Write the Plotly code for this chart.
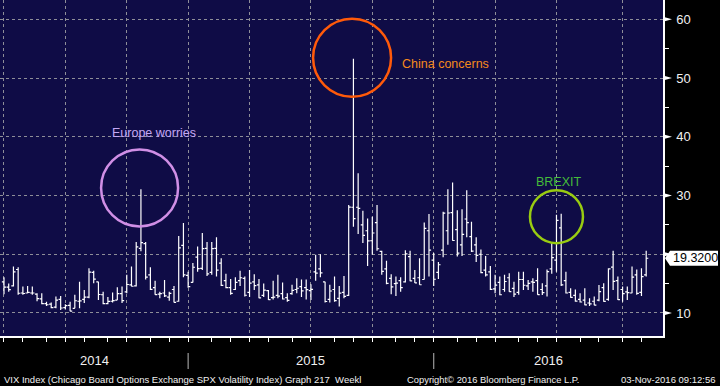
import pandas as pd
import plotly.graph_objects as go

# ---- data (weekly VIX OHLC, weeks ending Friday) ----
first_week = "2014-03-28"
open_ = [15.3, 14.4, 14.6, 17.4, 13.4, 13.4, 13.4, 13.2, 12.4, 11.6, 11.5, 11.0, 12.3, 10.9, 11.3, 10.8, 12.0, 12.3, 12.7, 16.9,
         15.3, 13.1, 11.6, 12.0, 12.2, 13.3, 13.6, 14.8, 14.6, 21.0, 21.8, 16.5, 14.3, 13.2, 13.4, 12.7, 14.0, 12.0, 21.5, 16.4,
         15.2, 19.5, 17.6, 21.0, 16.9, 21.0, 18.5, 15.5, 14.3, 14.0, 15.5, 15.9, 13.5, 15.3, 14.8, 13.0, 13.8, 12.6, 13.0, 13.3,
         12.6, 13.3, 14.0, 14.5, 14.3, 13.8, 17.0, 17.5, 15.3, 12.3, 14.0, 12.5, 13.5, 13.0, 28.0, 28.0, 25.0, 24.0, 22.3, 25.4,
         20.5, 17.5, 15.9, 15.0, 15.5, 15.3, 19.6, 15.9, 16.0, 15.7, 24.0, 19.0, 16.9, 20.7, 24.0, 27.1, 24.2, 21.6, 26.0, 23.0,
         21.6, 20.0, 17.3, 17.0, 14.1, 15.2, 14.0, 16.0, 14.2, 13.5, 15.7, 14.6, 15.3, 15.5, 14.0, 14.6, 17.5, 19.0, 24.5, 15.5,
         13.5, 13.0, 12.3, 12.2, 11.7, 12.0, 12.2, 14.3, 12.3, 17.8, 15.5, 14.0, 13.6, 13.4, 16.5, 13.5, 16.5]
high = [16.1, 15.0, 17.9, 17.8, 14.5, 14.6, 14.5, 13.35, 13.35, 11.9, 11.8, 12.8, 12.9, 11.5, 11.9, 13.1, 15.3, 13.9, 17.6, 17.2,
        15.3, 13.6, 12.7, 13.5, 14.4, 14.5, 16.5, 17.9, 22.1, 31.06, 22.1, 17.8, 15.5, 13.6, 15.6, 13.6, 14.6, 23.1, 25.3, 17.0,
        18.5, 21.3, 23.6, 22.1, 22.1, 22.9, 19.3, 16.7, 15.8, 16.1, 17.2, 16.2, 17.3, 16.6, 15.8, 15.0, 13.9, 15.5, 16.5, 15.2,
        13.35, 14.8, 15.9, 15.7, 15.7, 14.9, 19.9, 20.0, 15.3, 14.8, 16.2, 14.6, 16.3, 28.4, 53.29, 33.8, 27.4, 26.1, 26.4, 28.4,
        20.6, 18.9, 16.6, 16.2, 16.1, 20.7, 20.6, 17.3, 19.3, 25.4, 26.85, 20.2, 18.7, 27.25, 31.05, 32.2, 27.5, 27.65, 30.9, 25.55,
        22.9, 20.8, 19.7, 18.0, 16.5, 16.2, 16.5, 16.75, 15.3, 17.0, 17.0, 15.6, 15.9, 17.6, 15.05, 17.4, 22.0, 26.72, 26.9, 17.0,
        14.2, 14.0, 13.35, 14.2, 12.5, 12.8, 14.76, 15.05, 17.6, 20.6, 16.2, 14.5, 14.5, 17.9, 17.4, 17.6, 20.6]
low = [13.2, 13.6, 14.5, 13.1, 13.1, 13.35, 13.1, 12.0, 11.5, 11.2, 10.8, 10.8, 10.5, 10.6, 10.3, 10.8, 10.8, 11.7, 12.5, 15.05,
       12.2, 11.5, 11.5, 11.8, 12.2, 11.7, 13.35, 14.5, 14.5, 20.5, 15.7, 13.9, 13.1, 12.5, 12.7, 12.1, 11.8, 11.9, 16.1, 14.3,
       15.2, 17.0, 17.3, 16.3, 16.5, 16.2, 14.6, 14.2, 13.1, 13.9, 14.6, 12.8, 12.7, 13.9, 12.5, 12.7, 12.2, 12.3, 12.5, 12.3,
       11.9, 13.1, 13.35, 12.7, 12.3, 12.2, 15.5, 16.1, 11.8, 11.8, 11.9, 11.1, 12.5, 12.9, 24.7, 23.45, 21.9, 18.0, 19.9, 20.6,
       16.5, 14.9, 13.2, 12.9, 13.6, 15.2, 15.4, 15.1, 14.8, 15.7, 16.2, 14.6, 15.8, 19.5, 21.6, 22.3, 19.6, 19.7, 22.9, 20.4,
       18.7, 16.75, 16.2, 13.9, 13.35, 13.0, 13.6, 13.6, 12.7, 13.1, 13.9, 13.9, 13.6, 13.1, 13.07, 12.8, 16.7, 17.0, 14.6, 13.3,
       12.6, 11.9, 11.8, 11.3, 11.2, 11.3, 12.0, 11.9, 12.1, 13.9, 12.2, 11.9, 12.2, 13.35, 13.1, 12.9, 16.2]
close = [14.4, 13.96, 17.0, 13.36, 13.32, 13.5, 13.4, 12.44, 11.6, 11.4, 10.9, 12.18, 10.85, 11.26, 10.32, 12.08, 12.06, 12.69, 16.95, 15.77,
         13.15, 11.6, 11.98, 12.09, 13.31, 12.11, 14.85, 14.55, 21.24, 21.99, 16.11, 14.03, 13.12, 13.31, 12.9, 13.33, 11.82, 21.08, 16.49, 14.5,
         17.79, 17.55, 20.95, 16.66, 20.97, 17.29, 14.69, 14.3, 13.34, 15.2, 16.0, 13.02, 15.07, 14.67, 12.58, 13.89, 12.29, 12.7, 12.86, 12.38,
         12.13, 13.84, 14.21, 13.78, 13.96, 14.02, 16.79, 16.83, 11.95, 13.74, 12.12, 13.39, 12.83, 28.03, 26.05, 27.8, 23.2, 22.28, 23.62, 20.94,
         17.08, 15.05, 14.46, 15.07, 14.33, 20.08, 15.47, 15.12, 14.81, 24.39, 20.7, 15.74, 18.21, 27.01, 27.02, 22.34, 20.2, 23.38, 25.4, 20.53,
         19.81, 16.86, 16.5, 14.02, 14.74, 13.1, 15.36, 13.62, 13.22, 15.7, 14.72, 15.04, 15.2, 13.12, 13.47, 17.03, 19.41, 25.76, 14.77, 13.4,
         12.67, 12.02, 11.87, 11.39, 11.55, 11.34, 13.65, 11.98, 17.5, 15.37, 12.29, 13.29, 13.48, 16.12, 13.34, 16.19, 19.32]

last_price = 19.32
quarter_grid = ["2014-03-28", "2014-06-27", "2014-09-26", "2014-12-26", "2015-03-27", "2015-06-26",
                "2015-09-25", "2015-12-25", "2016-03-25", "2016-06-24", "2016-09-30"]
year_breaks = ["2014-12-26", "2015-12-25"]
year_labels = ["2014", "2015", "2016"]
y_major = [10, 20, 30, 40, 50, 60]
y_minor = [15, 25, 35, 45, 55]
hidden_label = 20  # covered by the last-price box
x_range = ["2014-03-22 02:00", "2016-11-28 22:00"]
y_range = [6.08, 63.29]

events = [  # label, anchor date, anchor value, circle radius px, circle colour, text colour, text date, text value
    ("Europe worries", "2014-10-15", 31.3, 38.5, "#d08fe6", "#c4a8f4", "2014-11-06", 40.6),
    ("China concerns", "2015-08-26", 53.45, 39, "#ff5a0a", "#f58a1c", "2016-01-12", 52.4),
    ("BREXIT", "2016-06-24", 26.4, 26.5, "#99cc11", "#45bb3a", "2016-06-28", 32.3),
]

dates = pd.date_range(first_week, periods=len(close), freq="W-FRI")

# month-end Friday ticks
month_ends = pd.date_range("2014-03-01", "2016-10-31", freq="ME")
month_ticks = [d - pd.Timedelta(days=(d.weekday() - 4) % 7) for d in month_ends]

FONT = "Liberation Sans, Arial, sans-serif"
TXT = "#f0f0f0"

fig = go.Figure()
fig.add_trace(go.Ohlc(
    x=dates, open=open_, high=high, low=low, close=close,
    increasing=dict(line=dict(color="white", width=1.2)),
    decreasing=dict(line=dict(color="white", width=1.2)),
    tickwidth=0.45, showlegend=False, hoverinfo="skip"))

shapes = []
# tick arrow markers on the right axis
for v in y_major:
    shapes.append(dict(type="path", xref="paper", yref="y",
                       path=f"M 1.0 {v-0.42} L 1.0136 {v} L 1.0 {v+0.42} Z",
                       fillcolor="white", line=dict(width=0)))
# last price label box
h = 1.28
shapes.append(dict(type="path", xref="paper", yref="y",
                   path=(f"M 1.003 {last_price} L 1.0106 {last_price+h} L 1.083 {last_price+h} "
                         f"L 1.083 {last_price-h} L 1.0106 {last_price-h} Z"),
                   fillcolor="white", line=dict(width=0)))
# year separators
for d in year_breaks:
    shapes.append(dict(type="line", xref="x", yref="paper", x0=d, x1=d, y0=-0.0506, y1=-0.0982,
                       line=dict(color="#9a9a9a", width=1.2)))
# event circles
annotations = []
for label, ad, av, r, ccol, tcol, td, tv in events:
    shapes.append(dict(type="circle", xref="x", yref="y", xsizemode="pixel", ysizemode="pixel",
                       xanchor=ad, yanchor=av, x0=-r, x1=r, y0=-r, y1=r,
                       line=dict(color=ccol, width=2.5)))
    annotations.append(dict(x=td, y=tv, xref="x", yref="y", text=label, showarrow=False,
                            xanchor="center", yanchor="middle",
                            font=dict(family=FONT, size=12.5, color=tcol)))

annotations.append(dict(x=1.0485, y=last_price, xref="paper", yref="y", text=f"{last_price:.4f}",
                        showarrow=False, xanchor="center", yanchor="middle",
                        font=dict(family=FONT, size=12.5, color="black")))

# year labels centred between breaks
edges = [pd.Timestamp(x_range[0])] + [pd.Timestamp(d) for d in year_breaks] + [pd.Timestamp(x_range[1])]
for i, lab in enumerate(year_labels):
    mid = edges[i] + (edges[i + 1] - edges[i]) / 2
    annotations.append(dict(x=mid, y=-0.074, xref="x", yref="paper", text=lab, showarrow=False,
                            xanchor="center", yanchor="middle",
                            font=dict(family=FONT, size=13, color=TXT)))

annotations += [
    dict(x=0.003, y=-0.128, xref="paper", yref="paper", xanchor="left", yanchor="middle", showarrow=False,
         text="VIX Index (Chicago Board Options Exchange SPX Volatility Index) Graph 217  Weekl",
         font=dict(family=FONT, size=9.5, color=TXT)),
    dict(x=405 / 663, y=-0.128, xref="paper", yref="paper", xanchor="left", yanchor="middle", showarrow=False,
         text="Copyright© 2016 Bloomberg Finance L.P.", font=dict(family=FONT, size=9.4, color=TXT)),
    dict(x=718 / 663, y=-0.128, xref="paper", yref="paper", xanchor="right", yanchor="middle", showarrow=False,
         text="03-Nov-2016 09:12:56", font=dict(family=FONT, size=9.5, color=TXT)),
]

fig.update_layout(
    width=720, height=386,
    margin=dict(l=0, r=57, t=0, b=50, autoexpand=False),
    paper_bgcolor="black", plot_bgcolor="#0f0c46",
    font=dict(family=FONT, color=TXT),
    shapes=shapes, annotations=annotations,
    xaxis=dict(type="date", range=x_range, rangeslider=dict(visible=False),
               tickmode="array", tickvals=quarter_grid, showticklabels=False,
               ticks="outside", ticklen=4, tickcolor="white", tickwidth=1,
               showgrid=True, gridcolor="#8e8e98", griddash="3px,3px", gridwidth=1,
               minor=dict(tickmode="array", tickvals=month_ticks, ticks="outside", ticklen=4,
                          tickcolor="white", tickwidth=1, showgrid=False),
               showline=True, linecolor="white", linewidth=1.5, zeroline=False, fixedrange=True,
               automargin=False),
    yaxis=dict(side="right", range=y_range, tickmode="array", tickvals=y_major,
               ticktext=["" if v == hidden_label else str(v) for v in y_major],
               ticks="", ticklabelstandoff=9,
               tickfont=dict(family=FONT, size=13, color=TXT),
               showgrid=True, gridcolor="#8e8e98", griddash="3px,3px", gridwidth=1,
               minor=dict(tickmode="array", tickvals=y_minor, ticks="outside", ticklen=4,
                          tickcolor="white", tickwidth=1, showgrid=False),
               showline=True, linecolor="white", linewidth=1.5, zeroline=False, fixedrange=True,
               automargin=False),
)

fig.write_html("out.html", config={"displayModeBar": False},
               post_script="document.body.style.margin='0';document.body.style.padding='0';")
